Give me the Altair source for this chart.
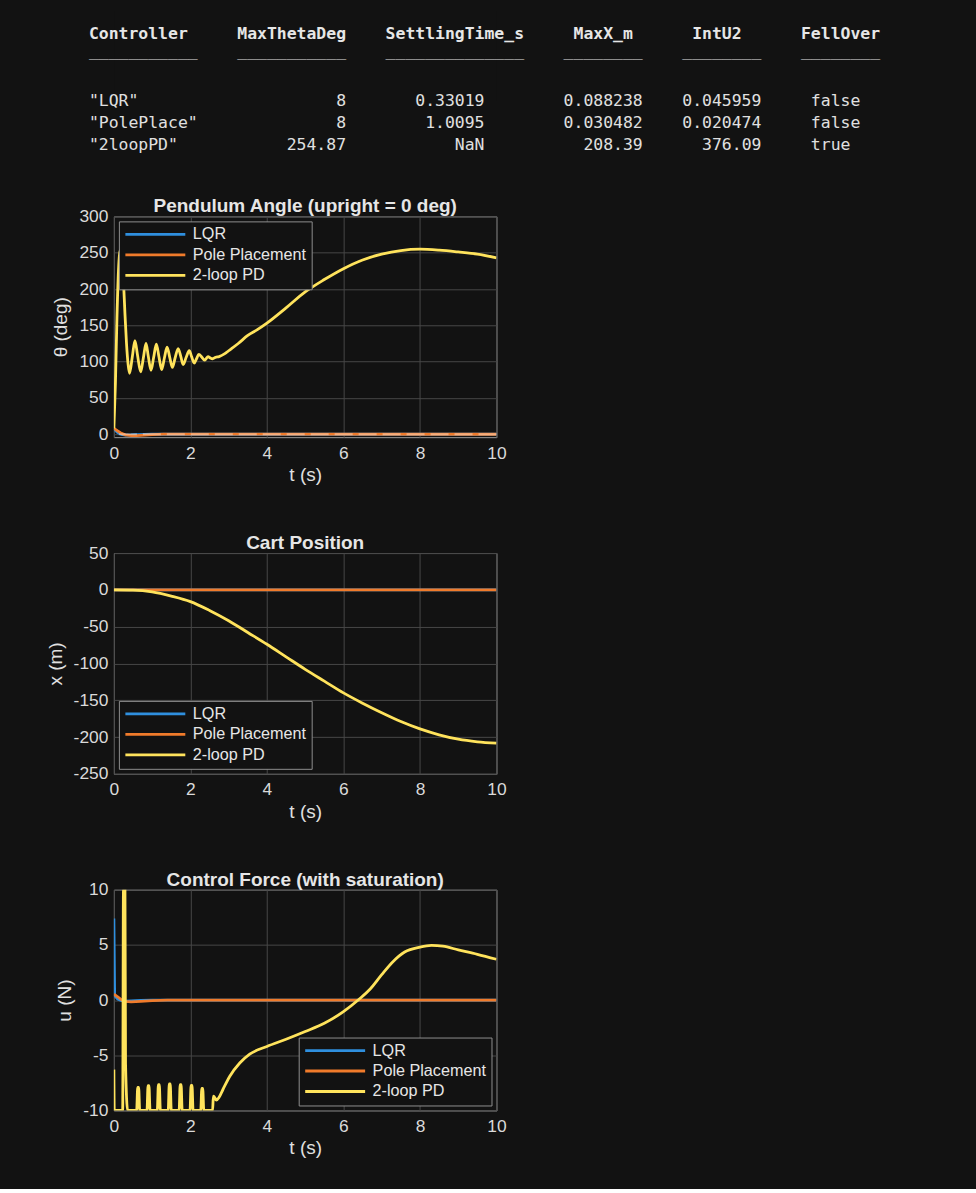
import altair as alt
import pandas as pd

# ---------------- table data ----------------
table_columns = ["Controller", "MaxThetaDeg", "SettlingTime_s", "MaxX_m", "IntU2", "FellOver"]
ctrl_names = ['"LQR"', '"PolePlace"', '"2loopPD"']
max_theta = ["8", "8", "254.87"]
settling = ["0.33019", "1.0095", "NaN"]
max_x = ["0.088238", "0.030482", "208.39"]
int_u2 = ["0.045959", "0.020474", "376.09"]
fell_over = ["false", "false", "true"]

# ---------------- series ----------------
series_names = ["LQR", "Pole Placement", "2-loop PD"]
series_colors = ["#2f8fde", "#f07b2b", "#ffe35c"]

# Pendulum angle (deg)
theta_lqr_t = [0, 0.05, 0.1, 0.15, 0.2, 0.3, 0.45, 0.6, 0.8, 1.0, 2.0, 10.0]
theta_lqr = [8, 4.8, 2.4, 0.9, -0.2, -1.1, -0.9, -0.4, -0.1, 0, 0, 0]
theta_pp_t = [0, 0.1, 0.2, 0.3, 0.45, 0.6, 0.8, 1.0, 1.3, 1.6, 2.0, 10.0]
theta_pp = [8, 4.5, 1.2, -0.8, -1.8, -1.9, -1.3, -0.5, 0.2, 0.3, 0.1, 0]
theta_pd_t = [0, 0.04, 0.08, 0.12, 0.16, 0.19, 0.22, 0.25, 0.29, 0.33, 0.37, 0.41,
              0.48, 0.55, 0.62, 0.70, 0.77, 0.84, 0.90, 0.97, 1.04, 1.11, 1.18, 1.25,
              1.32, 1.39, 1.46, 1.53, 1.60, 1.68, 1.75, 1.81, 1.89, 1.97, 2.03, 2.10,
              2.16, 2.22, 2.30, 2.37, 2.41, 2.46, 2.52, 2.58, 2.66, 2.75, 2.9, 3.0,
              3.25, 3.5, 3.75, 4.0, 4.5, 5.0, 5.5, 6.0, 6.5, 7.0, 7.5, 8.0, 8.5, 9.0,
              9.5, 10.0]
theta_pd = [8, 70, 160, 225, 252, 254.87, 240, 212, 165, 125, 97, 84,
            106, 129, 108, 86, 105, 125, 107, 88, 106, 124, 106, 89,
            105, 120, 106, 92, 105, 118, 107, 96, 106, 115, 107, 98,
            104, 110, 106, 102, 104, 107, 105, 104, 106, 107, 111, 115,
            125, 136, 144, 153, 174, 196, 213, 228, 240, 248, 253, 254.8, 253.5, 251,
            248, 243]
zero_line = [0]

# Cart position (m)
x_lqr_t = [0, 0.3, 0.6, 1.0, 1.5, 2.0, 10.0]
x_lqr = [0, 0.04, 0.088, 0.06, 0.02, 0, 0]
x_pp_t = [0, 0.5, 1.0, 1.5, 2.5, 10.0]
x_pp = [0, 0.02, 0.03, 0.02, 0, 0]
x_pd_t = [0, 0.5, 1, 1.5, 2, 2.5, 3, 3.5, 4, 4.5, 5, 5.5, 6, 6.5, 7, 7.5, 8, 8.5, 9, 9.5, 10]
x_pd = [0, -0.4, -2.8, -8.5, -16, -28, -42, -58, -74, -91, -108, -124, -140, -154, -167,
        -179, -189, -197, -203, -206.5, -208.4]

# Control force (N)
u_lqr_t = [0, 0.02, 0.1, 0.2, 0.3, 0.45, 0.7, 1.0, 10.0]
u_lqr = [7.4, 0.4, 0.1, -0.05, -0.1, -0.08, -0.03, 0, 0]
u_pp_t = [0, 0.1, 0.2, 0.3, 0.45, 0.7, 1.0, 1.4, 10.0]
u_pp = [0.55, 0.3, 0.02, -0.12, -0.17, -0.12, -0.04, 0, 0]
u_pd_t = [0, 0.01, 0.23, 0.25, 0.29, 0.305, 0.36,
          0.595, 0.623, 0.647, 0.675,
          0.865, 0.893, 0.917, 0.945,
          1.135, 1.163, 1.187, 1.215,
          1.42, 1.448, 1.472, 1.5,
          1.705, 1.733, 1.757, 1.785,
          1.99, 2.018, 2.042, 2.07,
          2.27, 2.298, 2.322, 2.35,
          2.58, 2.6, 2.62, 2.68, 2.75, 2.85, 3.03, 3.29, 3.55, 4.0, 4.5, 5.0, 5.5,
          6.0, 6.4, 6.7, 7.0, 7.3, 7.6, 8.0, 8.3, 8.6, 9.0, 9.5, 10.0]
u_pd = [-6.3, -10, -10, 10, 10, -5.8, -10,
        -10, -7.9, -7.9, -10,
        -10, -7.75, -7.75, -10,
        -10, -7.65, -7.65, -10,
        -10, -7.6, -7.6, -10,
        -10, -7.65, -7.65, -10,
        -10, -7.72, -7.72, -10,
        -10, -8.0, -8.0, -10,
        -10, -8.7, -8.75, -9.05, -8.8, -8.1, -6.9, -5.7, -4.9, -4.2, -3.55, -2.85, -2.1,
        -1.05, 0.05, 1.0, 2.3, 3.5, 4.35, 4.8, 4.95, 4.88, 4.55, 4.15, 3.7]

# ---------------- styling ----------------
BG = "#121212"
SANS = "Liberation Sans"
MONO = "DejaVu Sans Mono"
PLAIN_MINUS = "(datum.value < 0 ? '-' : '') + format(abs(datum.value), 'd')"


def make_df(pairs):
    rows = []
    for name, ts, vs in pairs:
        for t, v in zip(ts, vs):
            rows.append({"t": t, "v": v, "series": name})
    return pd.DataFrame(rows)


def panel(df, title, ytitle, ydomain, yticks, legend_orient, pd_interp):
    color = alt.Color(
        "series:N",
        scale=alt.Scale(domain=series_names, range=series_colors),
        sort=series_names,
        legend=alt.Legend(
            title=None, orient=legend_orient, offset=5,
            symbolType="stroke", symbolSize=3600, symbolStrokeWidth=2.8,
            clipHeight=16, labelFontSize=16.2, labelFont=SANS, labelColor="#e6e6e6",
            strokeColor="#8f8f8f", fillColor=BG, padding=5, rowPadding=3.5,
            labelOffset=6, labelLimit=400,
        ),
    )
    x = alt.X("t:Q", scale=alt.Scale(domain=[0, 10], nice=False),
              axis=alt.Axis(values=[0, 2, 4, 6, 8, 10], title="t (s)", labelFlush=False,
                            labelOverlap=False))
    y = alt.Y("v:Q", scale=alt.Scale(domain=ydomain, nice=False, zero=False),
              axis=alt.Axis(values=yticks, title=ytitle, labelOverlap=False,
                            labelExpr=PLAIN_MINUS))
    base = alt.Chart(df)
    layers = []
    for name in series_names:
        interp = pd_interp if name == "2-loop PD" else "linear"
        layers.append(
            base.transform_filter(alt.datum.series == name)
            .mark_line(strokeWidth=2.8, clip=True, interpolate=interp)
            .encode(x=x, y=y, color=color)
        )
    return layers, y, dict(title=title, width=383, height=221)


# ---------------- table chart ----------------
header_cols = [0, 15, 30, 49, 61, 72]
underline_cols = [0, 15, 30, 48, 60, 72]
underline_lens = [11, 11, 14, 8, 8, 8]
value_anchor = [("left", 0), ("right", 26), ("right", 40), ("right", 56), ("right", 68), ("left", 73)]
value_cols = [ctrl_names, max_theta, settling, max_x, int_u2, fell_over]

cells = []
for i, name in enumerate(table_columns):
    cells.append({"row": 0, "col": header_cols[i], "text": name, "bold": True})
    cells.append({"row": 0.8, "col": underline_cols[i], "text": "_" * underline_lens[i], "bold": False})
    side, anchor = value_anchor[i]
    for r, s in enumerate(value_cols[i]):
        start = anchor if side == "left" else anchor - len(s)
        cells.append({"row": 3 + r, "col": start, "text": s, "bold": False})
table_df = pd.DataFrame(cells)

tx = alt.X("col:Q", scale=alt.Scale(domain=[0, 80], range=[-25, -25 + 80 * 9.9]), axis=None)
ty = alt.Y("row:Q", scale=alt.Scale(domain=[0, 5], range=[23, 135]), axis=None)
tbase = alt.Chart(table_df)
table_head = tbase.transform_filter(alt.datum.bold).mark_text(
    align="left", baseline="middle", font=MONO, fontSize=16.45, fontWeight="bold", color="#e6e6e6"
).encode(x=tx, y=ty, text="text:N")
table_body = tbase.transform_filter(~alt.datum.bold).mark_text(
    align="left", baseline="middle", font=MONO, fontSize=16.45, color="#e0e0e0"
).encode(x=tx, y=ty, text="text:N")
table = alt.layer(table_head, table_body).properties(
    width=383, height=90, view=alt.ViewBackground(strokeOpacity=0)
)

# ---------------- panels ----------------
df_theta = make_df([("LQR", theta_lqr_t, theta_lqr), ("Pole Placement", theta_pp_t, theta_pp),
                    ("2-loop PD", theta_pd_t, theta_pd)])
df_x = make_df([("LQR", x_lqr_t, x_lqr), ("Pole Placement", x_pp_t, x_pp),
                ("2-loop PD", x_pd_t, x_pd)])
df_u = make_df([("LQR", u_lqr_t, u_lqr), ("Pole Placement", u_pp_t, u_pp),
                ("2-loop PD", u_pd_t, u_pd)])

l1, y1, p1 = panel(df_theta, "Pendulum Angle (upright = 0 deg)", "θ  (deg)", [-4, 300],
                   [0, 50, 100, 150, 200, 250, 300], "top-left", "monotone")
zero_rule = alt.Chart(pd.DataFrame({"v": zero_line})).mark_rule(
    color="#ffffff", opacity=0.4, strokeWidth=2, strokeDash=[18, 6]
).encode(y=y1)
chart1 = alt.layer(l1[0], l1[1], zero_rule, l1[2]).properties(**p1)

l2, y2, p2 = panel(df_x, "Cart Position", "x (m)", [-250, 50],
                   [-250, -200, -150, -100, -50, 0, 50], "bottom-left", "monotone")
chart2 = alt.layer(*l2).properties(**p2)

l3, y3, p3 = panel(df_u, "Control Force (with saturation)", "u (N)", [-10, 10],
                   [-10, -5, 0, 5, 10], "bottom-right", "monotone")
chart3 = alt.layer(*l3).properties(**p3)

full = alt.vconcat(table, chart1, chart2, chart3, spacing=116, bounds="flush")

chart = (
    full.properties(
        padding={"left": 45, "top": 10, "right": 96, "bottom": 30},
        background=BG,
    )
    .configure_view(stroke="#9a9a9a", strokeWidth=1, fill=BG)
    .configure_axis(
        grid=True, gridColor="#474747", gridWidth=1, domain=False, ticks=False,
        labelFont=SANS, labelFontSize=17.4, labelColor="#dadada", labelPadding=6,
        titleFont=SANS, titleFontSize=19, titleFontWeight="normal", titleColor="#e0e0e0",
        titlePadding=6,
    )
    .configure_axisX(labelPadding=7, titlePadding=4)
    .configure_axisY(titlePadding=8)
    .configure_title(font=SANS, fontSize=19, fontWeight="bold", color="#e6e6e6",
                     anchor="middle", offset=-9, frame="group")
)

chart.save("out.html", embed_options={"renderer": "svg", "actions": False})
